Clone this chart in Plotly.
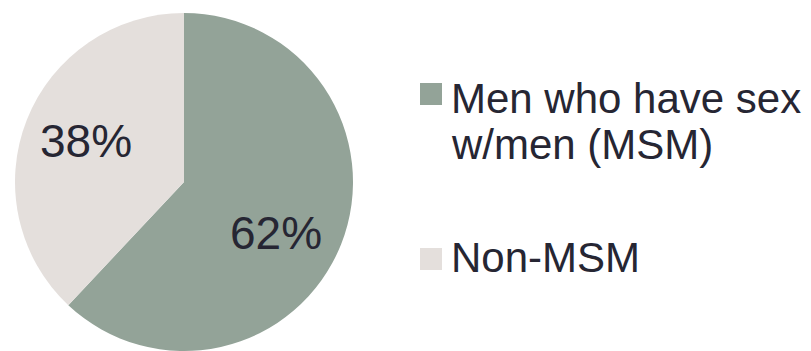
import plotly.graph_objects as go

# Share of cases by transmission group
categories = ["Men who have sex<br>w/men (MSM)", "Non-MSM"]
values = [62, 38]
colors = ["#93a398", "#e4dfdc"]

W, H = 811, 351
FONT = "Liberation Sans, Arial, sans-serif"
TEXT_COLOR = "#262633"

fig = go.Figure(
    go.Pie(
        labels=categories,
        values=values,
        sort=False,
        direction="clockwise",
        rotation=0,
        marker=dict(colors=colors, line=dict(width=0)),
        textinfo="none",
        hoverinfo="label+percent",
        showlegend=False,
        domain=dict(x=[13 / W, 355 / W], y=[0, 1 - 13 / H]),
    )
)


def px(x, y):
    """Pixel position -> paper coordinates."""
    return x / W, 1 - y / H


# Percentage labels inside each slice
total = sum(values)
label_centers = [(276, 233), (86, 141)]
for v, (lx, ly) in zip(values, label_centers):
    x, y = px(lx, ly)
    fig.add_annotation(
        xref="paper", yref="paper", x=x, y=y,
        xanchor="center", yanchor="middle", showarrow=False,
        text=f"{round(100 * v / total)}%",
        font=dict(family=FONT, size=46, color=TEXT_COLOR),
    )

# Legend: colour swatch plus (possibly multi-line) label for each category
swatch_tops = [83, 248]
first_line_centers = [98, 257]
LINE_PITCH = 46
for cat, col, top, mid in zip(categories, colors, swatch_tops, first_line_centers):
    x0, y0 = px(420, top)
    x1, y1 = px(442, top + 22)
    fig.add_shape(
        type="rect", xref="paper", yref="paper",
        x0=x0, x1=x1, y0=y0, y1=y1,
        fillcolor=col, line=dict(width=0),
    )
    for i, line in enumerate(cat.split("<br>")):
        x, y = px(449, mid + i * LINE_PITCH)
        fig.add_annotation(
            xref="paper", yref="paper", x=x, y=y,
            xanchor="left", yanchor="middle", align="left",
            text=line, showarrow=False,
            font=dict(family=FONT, size=42, color=TEXT_COLOR),
        )

fig.update_layout(
    width=W, height=H,
    margin=dict(l=0, r=0, t=0, b=0),
    paper_bgcolor="white", plot_bgcolor="white",
)

fig.write_html("out.html")
